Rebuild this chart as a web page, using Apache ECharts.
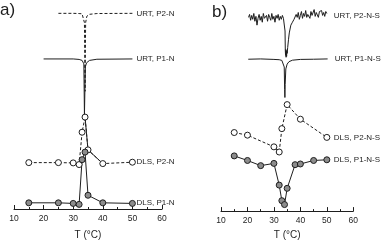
<!DOCTYPE html>
<html><head><meta charset="utf-8">
<script src="https://cdn.jsdelivr.net/npm/echarts@6/dist/echarts.min.js"></script>
<style>html,body{margin:0;padding:0;background:#fff}#c{width:381px;height:245px}</style>
</head><body><div id="c"></div>
<script>
// ---- Panel a data (x: T in °C, y: arbitrary vertical offset units) ----
const urtP2N_T = [25, 30, 32, 33, 33.5, 33.8, 34.0, 34.2, 34.6, 35.5, 38, 50];
const urtP2N_Y = [199.5, 199.5, 199.3, 199, 197, 190, 120, 190, 196.5, 198.5, 199.3, 199.5];
const urtP1N_T = [20, 30, 32, 33, 33.6, 33.8, 34.1, 34.5, 35.5, 38, 50];
const urtP1N_Y = [153, 153, 152.5, 151.5, 148, 96, 145, 149, 151.5, 152.7, 153];
const dlsP2N_T = [15, 25, 30, 32, 33, 34, 35, 40, 50];
const dlsP2N_Y = [47.3, 47.3, 47, 45.3, 78.3, 93.7, 60.3, 46.3, 47.7];
const dlsP1N_T = [15, 25, 30, 32, 33, 34, 35, 40, 50];
const dlsP1N_Y = [6.3, 6.3, 5.7, 4.7, 50.3, 58, 14, 6.3, 5.7];

// ---- Panel b data ----
const urtP2NS_T = [20.4, 20.8, 21.2, 21.6, 22.0, 22.4, 22.8, 23.2, 23.6, 24.0, 24.4, 24.8, 25.2, 25.6, 26.0, 26.4, 26.8, 27.2, 27.6, 28.0, 28.4, 28.8, 29.2, 29.6, 30.0, 30.4, 30.8, 31.2, 31.6, 32.0, 32.4, 32.8, 33.2, 33.6, 34.0,
  34.2, 34.3, 34.4, 34.5, 34.6, 34.7, 34.8, 34.9, 35.0, 35.2, 35.5, 35.8, 36.1, 36.4, 36.7, 37.0, 37.3, 37.6,
  38.0, 38.4, 38.8, 39.2, 39.6, 40.0, 40.4, 40.8, 41.2, 41.6, 42.0, 42.4, 42.8, 43.2, 43.6, 44.0, 44.4, 44.8, 45.2, 45.6, 46.0, 46.4, 46.8, 47.2, 47.6, 48.0, 48.4, 48.8, 49.2, 49.6, 50.0];
const urtP2NS_Y = [199, 202, 196, 201, 197, 203, 195, 200, 191, 198, 202, 196, 200, 194, 203, 198, 197, 201, 195, 202, 199, 196, 203, 197, 200, 194, 201, 198, 202, 196, 200, 197, 201, 198, 199,
  185, 165, 160, 166, 158, 164, 159, 165, 162, 168, 176, 183, 187, 191, 189, 194, 192, 197,
  196, 202, 199, 204, 197, 201, 205, 198, 203, 200, 206, 199, 202, 204, 198, 205, 201, 203, 207, 200, 204, 202, 199, 205, 203, 206, 201, 204, 200, 205, 203];
const urtP1NS_T = [20.3, 25, 30, 32, 33, 33.6, 33.9, 34.05, 34.15, 34.25, 34.5, 35, 35.7, 37, 40, 45, 50.3];
const urtP1NS_Y = [156, 156.3, 155.8, 155.5, 154.8, 153, 148, 125, 116.7, 130, 146, 151, 153.5, 155, 155.8, 156, 156.3];
const dlsP2NS_T = [15, 20, 30, 32, 33, 35, 40, 50];
const dlsP2NS_Y = [80.7, 78, 66, 60.7, 84.7, 109.4, 94.4, 75.7];
const dlsP1NS_T = [15, 20, 25, 30, 32, 33, 34, 35, 38, 40, 45, 50];
const dlsP1NS_Y = [56.7, 52, 46.7, 49, 26.7, 10.7, 6.7, 23.4, 47.7, 48.4, 52, 52.7];

const xTicks = {min: 10, max: 60, interval: 10};

const zip = (t, y) => t.map((v, i) => [v, y[i]]);
const INK = '#1e1e1e';
const FONT = 'Liberation Sans';

function labelCfg(name, dist, off) {
  return {show: true, formatter: name, distance: dist, offset: off || [0, 0],
    color: INK, fontSize: 8, fontFamily: FONT};
}
function lineSeries(idx, data, name, opts) {
  return Object.assign({
    type: 'line', xAxisIndex: idx, yAxisIndex: idx, data: data, name: name,
    symbol: 'none', animation: false, silent: true,
    lineStyle: {color: INK, width: 1},
    endLabel: labelCfg(name, 4)
  }, opts || {});
}
function dotSeries(idx, data, name, fill, dashed, dist, off) {
  return {
    type: 'line', xAxisIndex: idx, yAxisIndex: idx, data: data, name: name,
    symbol: 'circle', symbolSize: 6, showSymbol: true, animation: false, silent: true,
    itemStyle: {color: fill, borderColor: INK, borderWidth: 1},
    lineStyle: {color: INK, width: 1, type: dashed ? [3, 2] : 'solid'},
    endLabel: labelCfg(name, dist, off)
  };
}
function xAxisCfg(idx, gap) {
  return {
    type: 'value', gridIndex: idx, min: xTicks.min, max: xTicks.max, interval: xTicks.interval,
    name: 'T (°C)', nameLocation: 'middle', nameGap: gap,
    nameTextStyle: {color: INK, fontSize: 10, fontFamily: FONT},
    axisLine: {show: true, lineStyle: {color: INK, width: 1}},
    axisTick: {show: true, inside: true, length: 4, lineStyle: {color: INK}},
    minorTick: {show: true, splitNumber: 2, length: 2, lineStyle: {color: INK}},
    axisLabel: {color: INK, fontSize: 8.5, fontFamily: FONT, margin: 5},
    splitLine: {show: false}
  };
}

const chart = echarts.init(document.getElementById('c'), null, {renderer: 'canvas'});
chart.setOption({
  animation: false,
  backgroundColor: '#fff',
  grid: [
    {left: 14, width: 148, top: 5, height: 208},
    {left: 221, width: 132.3, top: 5, height: 211.7}
  ],
  xAxis: [xAxisCfg(0, 21), xAxisCfg(1, 17)],
  yAxis: [
    {type: 'value', gridIndex: 0, min: 0, max: 208, show: false},
    {type: 'value', gridIndex: 1, min: 0, max: 211.7, show: false}
  ],
  graphic: [
    {type: 'text', left: 0, top: 2, style: {text: 'a)', fontSize: 17, fontFamily: FONT, fill: INK}},
    {type: 'text', left: 212, top: 4, style: {text: 'b)', fontSize: 17, fontFamily: FONT, fill: INK}}
  ],
  series: [
    lineSeries(0, zip(urtP2N_T, urtP2N_Y), 'URT, P2-N', {lineStyle: {color: INK, width: 1, type: [3, 2]}}),
    lineSeries(0, zip(urtP1N_T, urtP1N_Y), 'URT, P1-N'),
    lineSeries(0, zip(dlsP2N_T, dlsP2N_Y).slice(5, 8), 'seg', {endLabel: {show: false}}),
    dotSeries(0, zip(dlsP2N_T, dlsP2N_Y), 'DLS, P2-N', '#ffffff', true, 4),
    dotSeries(0, zip(dlsP1N_T, dlsP1N_Y), 'DLS, P1-N', '#8c8c8c', false, 4, [0, -1]),
    lineSeries(1, zip(urtP2NS_T, urtP2NS_Y), 'URT, P2-N-S', {endLabel: labelCfg('URT, P2-N-S', 7, [0, 2])}),
    lineSeries(1, zip(urtP1NS_T, urtP1NS_Y), 'URT, P1-N-S', {endLabel: labelCfg('URT, P1-N-S', 7)}),
    dotSeries(1, zip(dlsP2NS_T, dlsP2NS_Y), 'DLS, P2-N-S', '#ffffff', true, 7),
    dotSeries(1, zip(dlsP1NS_T, dlsP1NS_Y), 'DLS, P1-N-S', '#8c8c8c', false, 7)
  ]
});
</script>
</body></html>
